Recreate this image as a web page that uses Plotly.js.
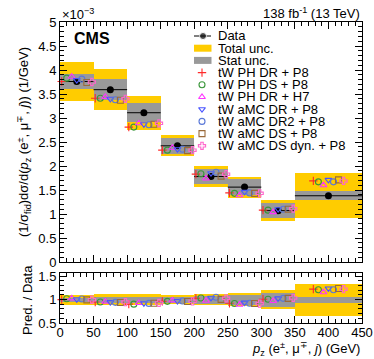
<!DOCTYPE html>
<html>
<head>
<meta charset="utf-8">
<script src="https://cdn.plot.ly/plotly-3.0.1.min.js"></script>
<style>
  body { margin: 0; padding: 0; background: #fff; }
  #chart { width: 374px; height: 359px; }
</style>
</head>
<body>
<div id="chart"></div>
<script>
// ------------------- Data (values in units of 1e-3 1/GeV) -------------------
var binEdges = [0, 50, 100, 150, 200, 250, 300, 350, 450];
var dataVals = [3.76, 3.59, 3.11, 2.42, 1.78, 1.56, 1.07, 1.38];
var totUnc   = [0.41, 0.43, 0.35, 0.22, 0.21, 0.22, 0.22, 0.47];
var statUnc  = [0.16, 0.22, 0.20, 0.16, 0.15, 0.17, 0.16, 0.09];

var modelNames = [
    'tW PH DR + P8',
    'tW PH DS + P8',
    'tW PH DR + H7',
    'tW aMC DR + P8',
    'tW aMC DR2 + P8',
    'tW aMC DS + P8',
    'tW aMC DS dyn. + P8'
];
var modelVals = [
    [3.76, 3.41, 2.81, 2.33, 1.83, 1.44, 1.08, 1.69], // PH DR + P8
    [3.83, 3.41, 2.81, 2.33, 1.84, 1.43, 1.08, 1.67], // PH DS + P8
    [3.86, 3.44, 2.89, 2.38, 1.74, 1.39, 1.04, 1.60], // PH DR + H7
    [3.79, 3.40, 2.87, 2.35, 1.85, 1.46, 1.10, 1.71], // aMC DR + P8
    [3.81, 3.38, 2.86, 2.35, 1.87, 1.44, 1.10, 1.67], // aMC DR2 + P8
    [3.74, 3.37, 2.87, 2.32, 1.79, 1.43, 1.10, 1.71], // aMC DS + P8
    [3.75, 3.40, 2.89, 2.33, 1.83, 1.43, 1.11, 1.69]  // aMC DS dyn. + P8
];
var modelSymbols = ['cross-thin-open', 'circle-open', 'triangle-up-open', 'triangle-down-open',
                    'circle-open', 'square-open', 'cross-open'];
var modelColors = ['#ff2a2a', '#3a963a', '#ff33ff', '#4a55ff', '#5a78d8', '#9a6a3a', '#ff66cc'];

// ------------------- Helpers -------------------
var YELLOW = '#ffcc00';
var GREY = '#999999';
var FONT = 'Liberation Sans, Arial, sans-serif';

// plot area in pixels: x 60..362, y 22..323
function px(x) { return (x - 60) / 302; }
function py(y) { return (323 - y) / 301; }

var centers = [], widths = [], halfW = [];
for (let i = 0; i < binEdges.length - 1; i++) {
    centers.push((binEdges[i] + binEdges[i + 1]) / 2);
    widths.push(binEdges[i + 1] - binEdges[i]);
    halfW.push((binEdges[i + 1] - binEdges[i]) / 2);
}

function band(lo, hi, color, xa, ya) {
    return {
        type: 'bar', x: centers, width: widths, base: lo,
        y: hi.map((h, i) => h - lo[i]),
        marker: { color: color, line: { width: 0 } },
        xaxis: xa, yaxis: ya, hoverinfo: 'skip', showlegend: false
    };
}

function modelMarker(m) {
    return { symbol: modelSymbols[m], size: 6, color: modelColors[m],
             line: { color: modelColors[m], width: 1.1 } };
}

var traces = [];

// main panel bands
traces.push(band(dataVals.map((d, i) => d - totUnc[i]), dataVals.map((d, i) => d + totUnc[i]), YELLOW, 'x', 'y'));
traces.push(band(dataVals.map((d, i) => d - statUnc[i]), dataVals.map((d, i) => d + statUnc[i]), GREY, 'x', 'y'));
// ratio panel bands
traces.push(band(dataVals.map((d, i) => 1 - totUnc[i] / d), dataVals.map((d, i) => 1 + totUnc[i] / d), YELLOW, 'x2', 'y2'));
traces.push(band(dataVals.map((d, i) => 1 - statUnc[i] / d), dataVals.map((d, i) => 1 + statUnc[i] / d), GREY, 'x2', 'y2'));

// data
traces.push({
    type: 'scatter', mode: 'markers', x: centers, y: dataVals,
    marker: { symbol: 'circle', size: 7, color: 'black' },
    error_x: { type: 'data', array: halfW, width: 0, thickness: 1, color: 'black' },
    xaxis: 'x', yaxis: 'y', showlegend: false
});

// model markers, shifted inside each bin
var step = 7.5;
for (let m = 0; m < modelNames.length; m++) {
    let xs = centers.map(c => c + (m - 3) * step);
    traces.push({ type: 'scatter', mode: 'markers', x: xs, y: modelVals[m], marker: modelMarker(m),
        xaxis: 'x', yaxis: 'y', showlegend: false, cliponaxis: false });
    traces.push({ type: 'scatter', mode: 'markers', x: xs, y: modelVals[m].map((v, i) => v / dataVals[i]),
        marker: modelMarker(m), xaxis: 'x2', yaxis: 'y2', showlegend: false, cliponaxis: false });
}

// ------------------- Hand-made legend (pixel axes x3/y3) -------------------
var legTop = 36, legStep = 12.2, keyX = 202, textX = 216;
var legLabels = ['Data', 'Total unc.', 'Stat unc.'].concat(modelNames);
var shapes = [];
var annotations = [];
legLabels.forEach(function (lab, i) {
    let yy = legTop + i * legStep;
    annotations.push({ xref: 'paper', yref: 'paper', x: px(textX), y: py(yy), text: lab,
        xanchor: 'left', yanchor: 'middle', showarrow: false, font: { family: FONT, size: 13, color: 'black' } });
    if (i >= 3) {
        traces.push({ type: 'scatter', mode: 'markers', x: [keyX], y: [yy], xaxis: 'x3', yaxis: 'y3',
            marker: modelMarker(i - 3), showlegend: false, hoverinfo: 'skip', cliponaxis: false });
    }
});
// Data key
traces.push({ type: 'scatter', mode: 'lines+markers', x: [194, 203, 211], y: [legTop, legTop, legTop],
    xaxis: 'x3', yaxis: 'y3', line: { color: 'black', width: 1 },
    marker: { size: [0, 7, 0], color: 'black' }, showlegend: false, hoverinfo: 'skip' });
// unc keys
[[1, YELLOW], [2, GREY]].forEach(function (k) {
    let yy = legTop + k[0] * legStep;
    shapes.push({ type: 'rect', xref: 'paper', yref: 'paper', x0: px(194), x1: px(211.5),
        y0: py(yy - 3.5), y1: py(yy + 3.5), fillcolor: k[1], line: { width: 0 } });
});

// line at 1 in the ratio panel
shapes.push({ type: 'line', xref: 'x2', yref: 'y2', x0: 0, x1: 450, y0: 1, y1: 1, layer: 'below',
    line: { color: 'black', width: 1 } });

// other texts
annotations.push({ xref: 'paper', yref: 'paper', x: px(60), y: py(14), text: '×10<sup>−3</sup>',
    xanchor: 'left', yanchor: 'middle', showarrow: false, font: { family: FONT, size: 13, color: 'black' } });
annotations.push({ xref: 'paper', yref: 'paper', x: px(362), y: py(13), text: '138 fb<sup>-1</sup> (13 TeV)',
    xanchor: 'right', yanchor: 'middle', showarrow: false, font: { family: FONT, size: 13, color: 'black' } });
annotations.push({ xref: 'paper', yref: 'paper', x: px(72), y: py(38), text: '<b>CMS</b>',
    xanchor: 'left', yanchor: 'middle', showarrow: false, font: { family: FONT, size: 16, color: 'black' } });
annotations.push({ xref: 'paper', yref: 'paper', x: px(362), y: py(349),
    text: '<i>p</i><sub>z</sub> (e<sup>±</sup>, μ<sup>∓</sup>, <i>j</i>) (GeV)',
    xanchor: 'right', yanchor: 'middle', showarrow: false, font: { family: FONT, size: 13, color: 'black' } });
annotations.push({ xref: 'paper', yref: 'paper', x: px(27), y: py(300), text: 'Pred. / Data', textangle: -90,
    xanchor: 'center', yanchor: 'middle', showarrow: false, font: { family: FONT, size: 13, color: 'black' } });

// ------------------- Layout -------------------
var axisCommon = {
    showline: true, linecolor: 'black', linewidth: 1, mirror: 'ticks',
    ticks: 'inside', ticklen: 7, tickcolor: 'black', tickwidth: 1,
    showgrid: false, zeroline: false, tickfont: { family: FONT, size: 13, color: 'black' },
    minor: { ticks: 'inside', ticklen: 4, tickcolor: 'black', showgrid: false }
};

var layout = {
    width: 374, height: 359,
    margin: { l: 60, r: 12, t: 22, b: 36 },
    paper_bgcolor: 'white', plot_bgcolor: 'rgba(0,0,0,0)',
    barmode: 'overlay', bargap: 0,
    showlegend: false,
    font: { family: FONT, size: 13, color: 'black' },
    xaxis: Object.assign({}, axisCommon, {
        domain: [0, 1], anchor: 'y', range: [0, 450], dtick: 50, tick0: 0,
        showticklabels: false, matches: 'x2',
        minor: Object.assign({}, axisCommon.minor, { dtick: 10 })
    }),
    yaxis: Object.assign({}, axisCommon, {
        domain: [py(262), 1], anchor: 'x', range: [0, 5], dtick: 0.5, tick0: 0,
        minor: Object.assign({}, axisCommon.minor, { dtick: 0.1 }),
        title: { text: '(1/σ<sub>fid</sub>)dσ/d(<i>p</i><sub>z</sub> (e<sup>±</sup>, μ<sup>∓</sup>, <i>j</i>)) (1/GeV)',
            font: { family: FONT, size: 13 }, standoff: 6 }
    }),
    xaxis2: Object.assign({}, axisCommon, {
        domain: [0, 1], anchor: 'y2', range: [0, 450], dtick: 50, tick0: 0,
        ticklabelstandoff: -3,
        minor: Object.assign({}, axisCommon.minor, { dtick: 10 })
    }),
    yaxis2: Object.assign({}, axisCommon, {
        domain: [0, py(273)], anchor: 'x2', range: [0.5, 1.57], dtick: 0.5, tick0: 0,
        minor: Object.assign({}, axisCommon.minor, { dtick: 0.1 })
    }),
    xaxis3: { domain: [0, 1], anchor: 'y3', range: [60, 362], visible: false, fixedrange: true },
    yaxis3: { domain: [0, 1], anchor: 'x3', range: [323, 22], visible: false, fixedrange: true },
    shapes: shapes,
    annotations: annotations
};

Plotly.newPlot('chart', traces, layout, { displayModeBar: false, staticPlot: true });
</script>
</body>
</html>
